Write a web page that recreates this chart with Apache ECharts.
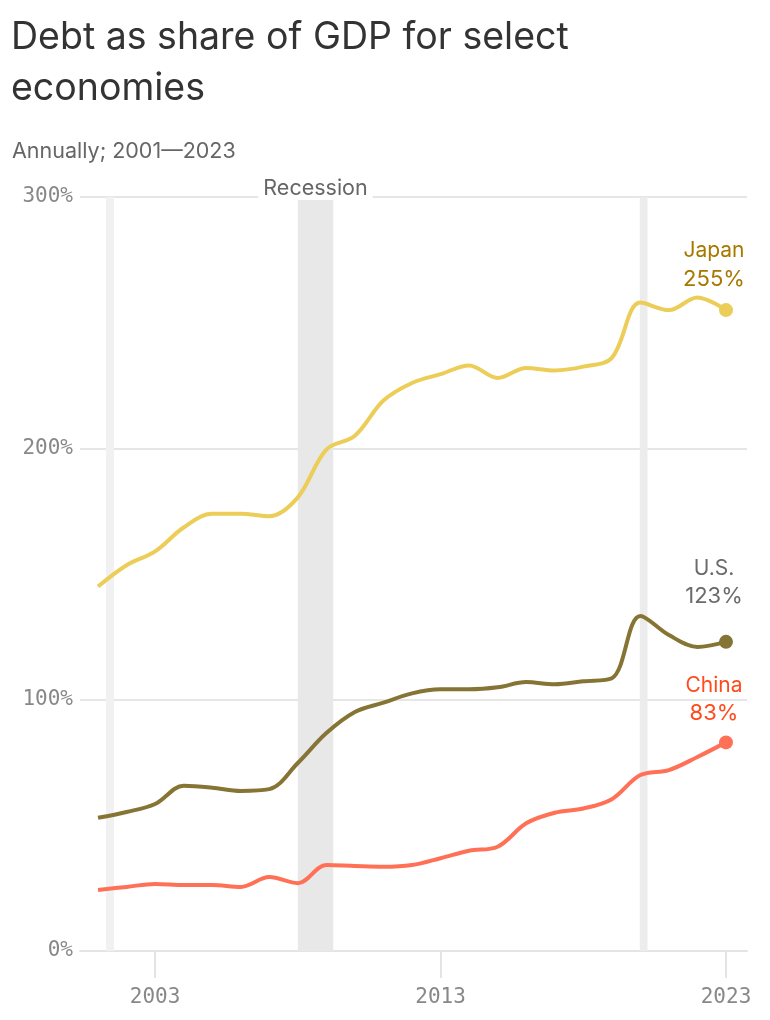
<!DOCTYPE html>
<html>
<head>
<meta charset="utf-8">
<script src="https://cdn.jsdelivr.net/npm/echarts@6/dist/echarts.min.js"></script>
<style>
html,body{margin:0;padding:0;background:#fff;}
#chart{width:770px;height:1020px;}
</style>
</head>
<body>
<div id="chart"></div>
<script>
const years = [2001,2002,2003,2004,2005,2006,2007,2008,2009,2010,2011,2012,2013,2014,2015,2016,2017,2018,2019,2020,2021,2022,2023];
const japan = [145,153.5,159,168.5,174,174,173,180.5,199.5,205,219,226,229.5,233,228,232,231,232.5,236,258,255,260,255];
const us = [53,55.3,58.5,65.7,65,63.7,64.4,74.8,86.7,95.1,98.8,102.5,104.1,104.1,104.9,107,106.1,107.3,108.5,133.3,125.7,121,123];
const china = [24.3,25.5,26.7,26.3,26.3,25.5,29.4,27,34.2,33.8,33.5,34.2,36.9,39.9,41.5,50.8,55,56.7,60.4,70,72,77.2,83];
const seriesNames = ['Japan','U.S.','China'];
const recessions = [[2001.28,2001.56],[2008.0,2009.24],[2019.98,2020.25]];
const xTicks = [2003,2013,2023];

const colors = ['#eccd58','#857434','#ff7157'];
const labelColors = ['#a77800','#6b6b6b','#ff4a1c'];
const bandColors = ['#f1f1f1','#e8e8e8','#ececec'];
const labelDist = [10, 24, 8];

const sans = 'Inter, "Liberation Sans", sans-serif';
const mono = '"DejaVu Sans Mono", monospace';

function mkSeries(name, vals, i) {
  const data = vals.map((v, k) => {
    const item = { value: [years[k], v] };
    if (k === vals.length - 1) {
      item.symbol = 'circle';
      item.symbolSize = 14;
      item.label = {
        show: true,
        position: 'top',
        distance: labelDist[i],
        offset: [-12, 0],
        align: 'center',
        formatter: () => '{n|' + name + '}\n{v|' + Math.round(v) + '%}',
        rich: {
          n: { fontFamily: sans, fontSize: 21, color: labelColors[i], lineHeight: 28 },
          v: { fontFamily: sans, fontSize: 22, color: labelColors[i], lineHeight: 28 }
        }
      };
    }
    return item;
  });
  return {
    name: name,
    type: 'line',
    z: 3,
    smooth: 0.35,
    symbol: 'none',
    showSymbol: true,
    data: data,
    lineStyle: { color: colors[i], width: 4 },
    itemStyle: { color: colors[i] },
    silent: true
  };
}

const chart = echarts.init(document.getElementById('chart'));
chart.setOption({
  animation: false,
  backgroundColor: '#fff',
  title: [
    {
      text: 'Debt as share of GDP for select\neconomies',
      left: 6, top: 7,
      textStyle: { fontFamily: sans, fontSize: 37.5, fontWeight: 'normal', color: '#333', lineHeight: 51 }
    },
    {
      text: 'Annually; 2001\u20142023',
      left: 7, top: 135,
      textStyle: { fontFamily: sans, fontSize: 21.5, fontWeight: 'normal', color: '#666', lineHeight: 24 }
    }
  ],
  grid: { left: 80, right: 23, top: 197, bottom: 69 },
  xAxis: {
    type: 'value',
    min: 2000.369,
    max: 2023.736,
    axisLine: { show: true, lineStyle: { color: '#e4e4e4', width: 2 } },
    axisTick: { show: true, customValues: xTicks, length: 27, lineStyle: { color: '#e4e4e4', width: 2 } },
    axisLabel: { customValues: xTicks, margin: 36, fontFamily: mono, fontSize: 21, color: '#888', formatter: v => String(v) },
    splitLine: { show: false }
  },
  yAxis: {
    type: 'value',
    min: 0, max: 300, interval: 100,
    axisLine: { show: false },
    axisTick: { show: false },
    axisLabel: { margin: 7, fontFamily: mono, fontSize: 21, color: '#888', formatter: '{value}%' },
    splitLine: { show: true, lineStyle: { color: '#e6e6e6', width: 2 } }
  },
  series: [
    {
      type: 'line',
      name: 'recessions',
      data: [],
      z: 1,
      silent: true,
      markArea: {
        silent: true,
        data: recessions.map((r, i) => [
          {
            xAxis: r[0],
            itemStyle: { color: bandColors[i] },
            label: i === 1 ? {
              show: true, position: 'top', distance: -3,
              formatter: 'Recession',
              fontFamily: sans, fontSize: 21.5, color: '#666',
              backgroundColor: '#fff', padding: [0, 5, 0, 5], lineHeight: 22
            } : { show: false }
          },
          { xAxis: r[1] }
        ])
      }
    },
    mkSeries(seriesNames[0], japan, 0),
    mkSeries(seriesNames[1], us, 1),
    mkSeries(seriesNames[2], china, 2)
  ]
});
</script>
</body>
</html>
